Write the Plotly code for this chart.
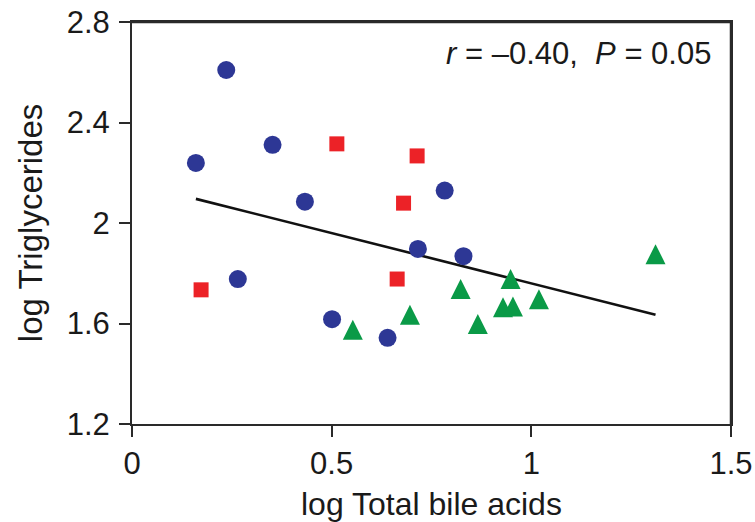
import plotly.graph_objects as go

# Blue circles
blue_x = [0.160, 0.236, 0.352, 0.433, 0.265, 0.501, 0.640, 0.783, 0.716, 0.830]
blue_y = [2.239, 2.609, 2.311, 2.085, 1.777, 1.617, 1.543, 2.129, 1.897, 1.868]
# Red squares
red_x = [0.513, 0.714, 0.680, 0.664, 0.173]
red_y = [2.315, 2.267, 2.079, 1.777, 1.734]
# Green triangles
green_x = [0.553, 0.696, 0.823, 0.866, 0.948, 0.929, 0.954, 1.019, 1.311]
green_y = [1.575, 1.635, 1.737, 1.598, 1.777, 1.665, 1.668, 1.697, 1.876]
# Regression line
fit_x = [0.160, 1.311]
fit_y = [2.096, 1.635]

x_ticks = [0, 0.5, 1, 1.5]
x_ticklabels = ["0", "0.5", "1", "1.5"]
y_ticks = [1.2, 1.6, 2.0, 2.4, 2.8]
y_ticklabels = ["1.2", "1.6", "2", "2.4", "2.8"]

FONT = "Liberation Sans, Arial, Helvetica, sans-serif"
TXT = "#1a1a1a"
AX = "#2a2a2a"
TRI = 20

fig = go.Figure()
fig.add_trace(go.Scatter(x=fit_x, y=fit_y, mode="lines",
                         line=dict(color="#111111", width=2.6), showlegend=False))
fig.add_trace(go.Scatter(x=blue_x, y=blue_y, mode="markers",
                         marker=dict(symbol="circle", size=18, color="#2d3795"), showlegend=False))
fig.add_trace(go.Scatter(x=red_x, y=red_y, mode="markers",
                         marker=dict(symbol="square", size=15, color="#ec2227"), showlegend=False))
fig.add_trace(go.Scatter(x=green_x, y=green_y, mode="markers",
                         marker=dict(symbol="arrow-down", angle=180, standoff=TRI / 2,
                                     size=TRI, color="#0a9a47"), showlegend=False))

fig.add_annotation(x=1.0, y=1.0, xref="paper", yref="paper",
                   xanchor="right", yanchor="middle", xshift=-18, yshift=-31,
                   text="<i>r</i> = –0.40,  <i>P</i> = 0.05", showarrow=False,
                   font=dict(family=FONT, size=31, color=TXT))

# axis titles
fig.add_annotation(x=0.5, y=-0.198, xref="paper", yref="paper",
                   xanchor="center", yanchor="middle", text="log Total bile acids",
                   showarrow=False, font=dict(family=FONT, size=32, color=TXT))
fig.add_annotation(x=-0.170, y=0.5, xref="paper", yref="paper", textangle=-90,
                   xanchor="center", yanchor="middle", text="log Triglycerides",
                   showarrow=False, font=dict(family=FONT, size=33, color=TXT))

# plot frame (top and right edges)
fig.add_shape(type="line", xref="paper", yref="paper", x0=0, y0=1, x1=1, y1=1,
              line=dict(color=AX, width=2.5), layer="above")
fig.add_shape(type="line", xref="paper", yref="paper", x0=1, y0=0, x1=1, y1=1,
              line=dict(color=AX, width=2.5), layer="above")

axis_common = dict(showgrid=False, zeroline=False, showline=True, linecolor=AX,
                   linewidth=2, mirror=True, ticks="outside", ticklen=11, tickwidth=2,
                   tickcolor=AX, automargin=False, ticklabeloverflow="allow",
                   tickfont=dict(family=FONT, size=31, color=TXT))

fig.update_xaxes(range=[0, 1.5], tickvals=x_ticks, ticktext=x_ticklabels, **axis_common)
fig.update_yaxes(range=[1.2, 2.8], tickvals=y_ticks, ticktext=y_ticklabels,
                 ticklabelstandoff=3, **axis_common)

fig.update_layout(width=755, height=522, margin=dict(l=132, r=24, t=22, b=98),
                  plot_bgcolor="white", paper_bgcolor="white")

# remove the default page margin so the figure sits at the window's top-left corner
fig.write_html("out.html", config={"displayModeBar": False},
               post_script="document.body.style.margin='0';document.body.style.overflow='hidden';")
